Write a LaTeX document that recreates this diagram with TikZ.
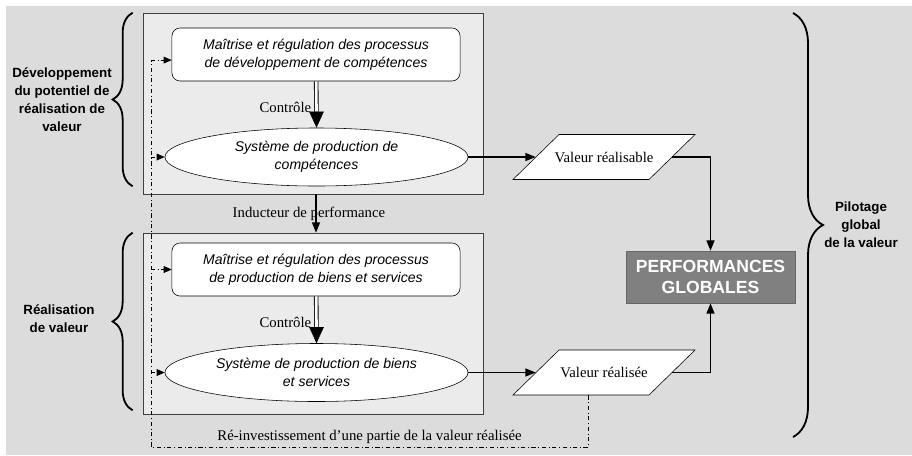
\documentclass[tikz,border=0pt]{standalone}
\usepackage{fontspec}
\setmainfont{Liberation Serif}
\setsansfont{Liberation Sans}
\usepackage{tikz}
\usetikzlibrary{positioning,calc,shapes.geometric,arrows.meta,decorations.pathreplacing}
\definecolor{fondGris}{RGB}{220,220,220}
\definecolor{zoneGris}{RGB}{235,235,235}
\definecolor{perfGris}{RGB}{128,128,128}

% parallélogramme blanc + texte : nom, position, texte
\newcommand{\valeur}[3]{%
	\filldraw[fill=white] ($(#2)+(-91,22.5)$) -- ($(#2)+(-45,-22.5)$) -- ($(#2)+(91,-22.5)$) -- ($(#2)+(45,22.5)$) -- cycle;
	\node[val] (#1) at (#2) {#3};}

\begin{document}
\begin{tikzpicture}[
		x=0.025cm, y=-0.025cm,
		zone/.style={draw=black!75, fill=zoneGris, minimum width=8.5cm, minimum height=4.525cm, inner sep=0pt},
		ctl/.style={draw, fill=white, rounded corners=0.2cm, minimum width=7.2cm, minimum height=1.325cm, align=center, font=\sffamily\itshape\fontsize{10}{13}\selectfont},
		sys/.style={draw, fill=white, ellipse, minimum width=7.575cm, minimum height=1.45cm, inner sep=0pt, align=center, font=\sffamily\itshape\fontsize{10}{12.5}\selectfont},
		val/.style={minimum width=3.4cm, minimum height=1.125cm, inner sep=0pt, font=\fontsize{10.5}{12}\selectfont},
		perf/.style={draw=black!60, fill=perfGris, text=white, minimum width=4.225cm, minimum height=1.3cm, align=center, font=\sffamily\bfseries\fontsize{12.5}{15}\selectfont},
		lbl/.style={align=center, font=\sffamily\bfseries\fontsize{9.5}{12.8}\selectfont},
		txt/.style={font=\fontsize{10.5}{12}\selectfont},
		bbrace/.style={decorate, decoration={brace, amplitude=0.5cm}, line width=1.3pt},
		flow/.style={line width=1.1pt, -{Triangle[length=0.26cm, width=0.2cm]}},
		reinv/.style={dash dot, line width=0.5pt},
		tip/.style={-{Triangle[length=0.2cm, width=0.17cm]}}
		]
		
		\useasboundingbox (0,0) rectangle (912,455);
		\fill[fondGris] (6,6) rectangle (912,455);
		
		% ===== deux zones =====
		\node[zone] (zoneDev) at (313,103.5) {};
		\node[zone] (zoneReal) at (313,323.5) {};
		
		% ===== processus du haut =====
		\node[ctl] (ctlDev) at (316,54.5) {Maîtrise et régulation des processus\\de développement de compétences};
		\node[sys] (sysDev) at (316.5,157) {Système de production de\\compétences};
		
		% ===== processus du bas =====
		\node[ctl] (ctlReal) at (316,269.5) {Maîtrise et régulation des processus\\de production de biens et services};
		\node[sys] (sysReal) at (316.5,372.5) {Système de production de biens\\et services};
		
		% ===== valeurs et performances =====
		\valeur{valRble}{604,157}{Valeur réalisable}
		\valeur{valRee}{604,372.5}{Valeur réalisée}
		\node[perf] (perf) at (710.5,277) {PERFORMANCES\\GLOBALES};
		
		% ===== contrôles (double trait) =====
		\foreach \h/\b in {ctlDev/sysDev, ctlReal/sysReal}{
			\draw[double, double distance=2pt, line width=0.6pt, shorten >=0.4cm] (\h) -- (\b.north)
				node[midway, left, txt, yshift=-2pt] {Contrôle};
			\draw[-{Triangle[length=0.4cm, width=0.36cm]}] ($(\b.north)+(0,-16)$) -- (\b.north);
		}
		
		% ===== flux =====
		\draw[flow] (sysDev) -- (valRble.west);
		\draw[flow] (sysReal) -- (valRee.west);
		\draw[flow] (valRble.east) -| (perf.north);
		\draw[flow] (valRee.east) -| (perf.south);
		\draw[flow] (ctlDev |- zoneDev.south) -- (ctlDev |- zoneReal.north)
			node[midway, txt, xshift=-5pt] {Inducteur de performance};
		
		% ===== ré-investissement =====
		\coordinate (coinBas) at (151,447);
		\draw[reinv] ([xshift=-0.4cm]valRee.south) |- (coinBas)
			node[pos=0.75, above, txt, yshift=-1pt] {Ré-investissement d’une partie de la valeur réalisée}
			-- ([yshift=-0.14cm]ctlDev.west -| coinBas);
		\draw[reinv, tip] ([yshift=-0.14cm]ctlDev.west -| coinBas) -- ([yshift=-0.14cm]ctlDev.west);
		\foreach \n in {sysDev, ctlReal, sysReal}{
			\draw[reinv, tip] (\n.west -| coinBas) -- (\n.west);
		}
		
		% ===== accolades =====
		\draw[bbrace] ([xshift=-0.25cm, yshift=0.2cm]zoneDev.south west) -- ([xshift=-0.25cm]zoneDev.north west);
		\draw[bbrace] ([xshift=-0.25cm, yshift=0.1cm]zoneReal.south west) -- ([xshift=-0.25cm]zoneReal.north west);
		\draw[bbrace, decoration={amplitude=0.75cm}] (793,13) -- (793,437);
		
		\node[lbl] (lblDev) at (62,100) {Développement\\du potentiel de\\réalisation de\\valeur};
		\node[lbl] (lblReal) at (59,319) {Réalisation\\de valeur};
		\node[lbl] (lblPilot) at (861,225) {Pilotage\\global\\de la valeur};
		
	\end{tikzpicture}
\end{document}
